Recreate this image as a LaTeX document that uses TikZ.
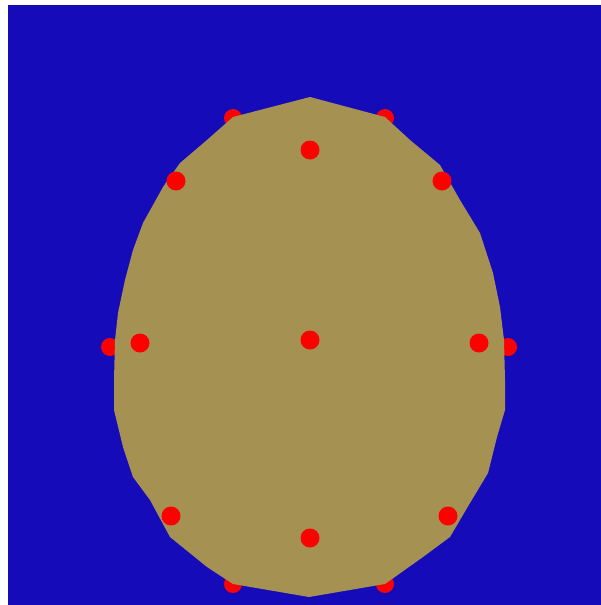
\documentclass[tikz,border=0pt]{standalone}
\usepackage{xcolor}
\usepackage{tikz}
\definecolor{cBack}{HTML}{160BB8}
\definecolor{cHead}{HTML}{A59152}
\definecolor{cElec}{HTML}{FF0000}
\tikzset{
  elec/.style={fill=cElec},
  head/.style={fill=cHead},
}

\begin{document}
\begin{tikzpicture}[x=1pt,y=-1pt]
\useasboundingbox (0,0) rectangle (601,605);
\fill[cBack] (8,5) rectangle (601,605);
% rim electrodes, partly under the head
\foreach \ex/\ey in {233/118,385/118,110/347,508/347,233/584,385/584}
  \fill[elec] (\ex,\ey) circle (9);
\fill[head] (310,97) -- (385,117) -- (410,140) -- (440,165) -- (460,200) -- (480,233)
  -- (493,273) -- (500,307) -- (504,340) -- (505,380) -- (505,410) -- (497,437)
  -- (488,473) -- (470,503) -- (450,537) -- (423,557) -- (385,584) -- (309,597)
  -- (233,584) -- (207,567) -- (170,537) -- (150,500) -- (133,477) -- (123,447)
  -- (114,410) -- (114,380) -- (115,340) -- (118,313) -- (125,280) -- (133,250)
  -- (143,223) -- (163,187) -- (180,163) -- (207,140) -- (233,117) -- cycle;
% inner electrodes
\foreach \ex/\ey in {310/150,176/181,442/181,140/343,310/340,479/343,171/516,448/516,310/538}
  \fill[elec] (\ex,\ey) circle (9.5);
\end{tikzpicture}
\end{document}
